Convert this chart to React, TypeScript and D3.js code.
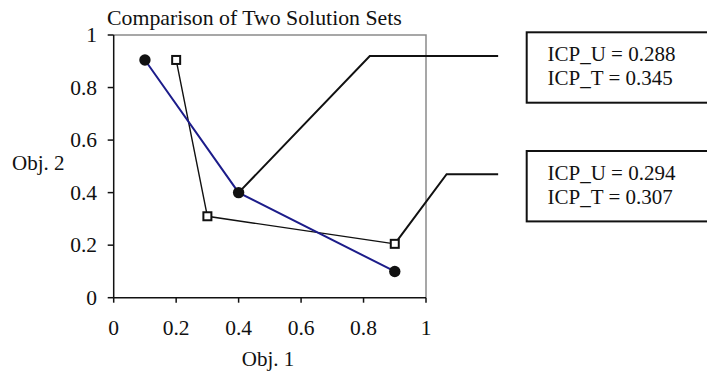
import React from "react";
import * as d3 from "d3";

const title = "Comparison of Two Solution Sets";
const xLabel = "Obj. 1";
const yLabel = "Obj. 2";
const xTicks = [0, 0.2, 0.4, 0.6, 0.8, 1];
const yTicks = [0, 0.2, 0.4, 0.6, 0.8, 1];
const tickLabels = ["0", "0.2", "0.4", "0.6", "0.8", "1"];

// Solution set U (filled circles, blue line)
const setUX = [0.1, 0.4, 0.9];
const setUY = [0.905, 0.4, 0.1];
// Solution set T (open squares, black line)
const setTX = [0.2, 0.3, 0.9];
const setTY = [0.905, 0.31, 0.205];

// Callouts: anchor point index, elbow (data coords), text lines
const calloutAnchors = [
  { series: "U", index: 1 },
  { series: "T", index: 2 },
];
const calloutElbowX = [0.82, 1.066];
const calloutElbowY = [0.92, 0.47];
const calloutEndX = 1.231;
const calloutTexts = [
  ["ICP_U = 0.288", "ICP_T = 0.345"],
  ["ICP_U = 0.294", "ICP_T = 0.307"],
];

const W = 707;
const H = 374;
const FONT = "'Liberation Serif', 'Times New Roman', serif";

export default function App() {
  const x = d3.scaleLinear().domain([0, 1]).range([113.7, 426]);
  const y = d3.scaleLinear().domain([0, 1]).range([297.7, 35]);

  const U = setUX.map((v, i) => [v, setUY[i]] as [number, number]);
  const T = setTX.map((v, i) => [v, setTY[i]] as [number, number]);
  const line = d3
    .line<[number, number]>()
    .x((d) => x(d[0]))
    .y((d) => y(d[1]));

  const boxTop = [32.3, 151];
  const boxH = 70.4;
  const boxLeft = 526.7;

  return (
    <div style={{ position: "fixed", left: 0, top: 0, width: W, height: H, overflow: "hidden", background: "#fff" }}>
      <svg width={W} height={H} style={{ display: "block" }} fontFamily={FONT}>
        <rect width={W} height={H} fill="#fff" />
        <text x={107} y={25} fontSize={21.8} fill="#111">
          {title}
        </text>
        {/* plot frame: gray top and right */}
        <path
          d={`M${x(0)},${y(1)} H${x(1)} V${y(0)}`}
          fill="none"
          stroke="#8a8a8a"
          strokeWidth={1.5}
        />
        {/* axes */}
        <line x1={x(0)} x2={x(0)} y1={y(0)} y2={y(1)} stroke="#111" strokeWidth={1.5} />
        <line x1={x(0)} x2={x(1)} y1={y(0)} y2={y(0)} stroke="#111" strokeWidth={1.5} />
        {yTicks.map((t, i) => (
          <g key={"y" + i}>
            <line x1={x(0) - 6} x2={x(0)} y1={y(t)} y2={y(t)} stroke="#111" strokeWidth={1.5} />
            <text x={97} y={y(t) + 7} fontSize={21.5} textAnchor="end" fill="#111">
              {tickLabels[i]}
            </text>
          </g>
        ))}
        {xTicks.map((t, i) => (
          <g key={"x" + i}>
            <line x1={x(t)} x2={x(t)} y1={y(0)} y2={y(0) + 5} stroke="#111" strokeWidth={1.5} />
            <text x={x(t)} y={335} fontSize={21.5} textAnchor="middle" fill="#111">
              {tickLabels[i]}
            </text>
          </g>
        ))}
        <text x={268} y={366} fontSize={21} textAnchor="middle" fill="#111">
          {xLabel}
        </text>
        <text x={12} y={170} fontSize={21} fill="#111">
          {yLabel}
        </text>

        {/* callout lines */}
        {calloutAnchors.map((a, i) => {
          const p = a.series === "U" ? U[a.index] : T[a.index];
          return (
            <polyline
              key={"c" + i}
              points={`${x(p[0])},${y(p[1])} ${x(calloutElbowX[i])},${y(calloutElbowY[i])} ${x(
                calloutEndX
              )},${y(calloutElbowY[i])}`}
              fill="none"
              stroke="#111"
              strokeWidth={2}
            />
          );
        })}

        {/* series lines */}
        <path d={line(T) || ""} fill="none" stroke="#111" strokeWidth={1.4} />
        <path d={line(U) || ""} fill="none" stroke="#1c1c8a" strokeWidth={2} />
        {T.map((d, i) => (
          <rect
            key={"t" + i}
            x={x(d[0]) - 4}
            y={y(d[1]) - 4}
            width={8}
            height={8}
            fill="#fff"
            stroke="#111"
            strokeWidth={2}
          />
        ))}
        {U.map((d, i) => (
          <circle key={"u" + i} cx={x(d[0])} cy={y(d[1])} r={5.7} fill="#111" />
        ))}

        {/* callout boxes */}
        {calloutTexts.map((lines, i) => (
          <g key={"b" + i}>
            <rect
              x={boxLeft}
              y={boxTop[i]}
              width={200}
              height={boxH}
              fill="#fff"
              stroke="#111"
              strokeWidth={2}
            />
            {lines.map((s, j) => (
              <text key={j} x={547.5} y={boxTop[i] + 29 + j * 24} fontSize={21} fill="#111">
                {s}
              </text>
            ))}
          </g>
        ))}
      </svg>
    </div>
  );
}
